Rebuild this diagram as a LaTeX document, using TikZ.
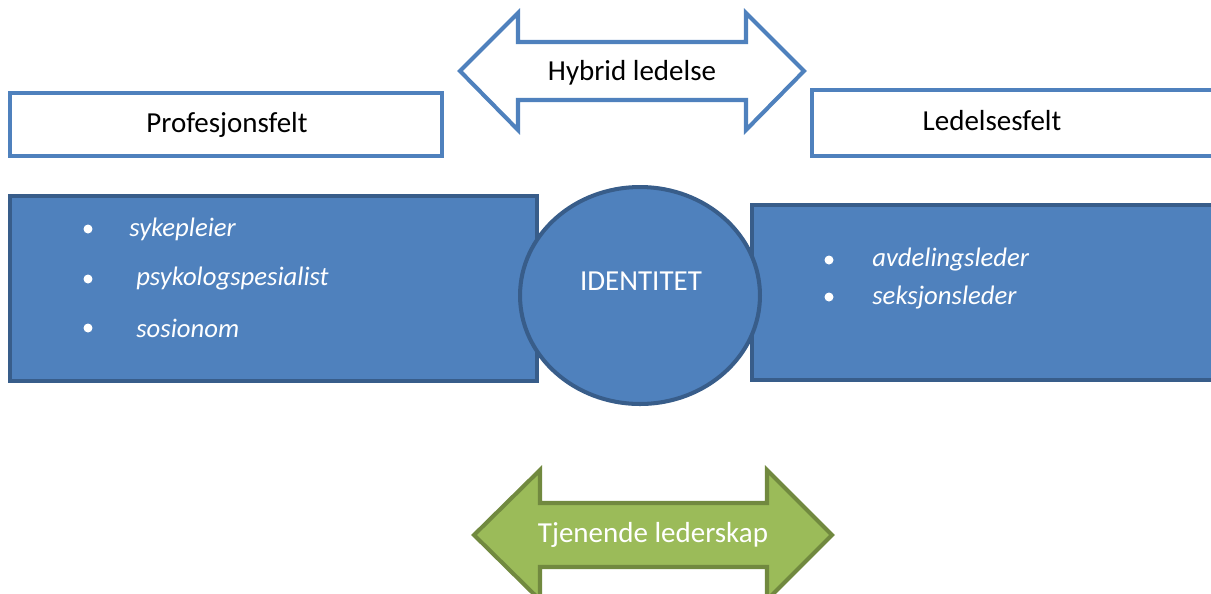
\documentclass[tikz,border=0pt]{standalone}
\usepackage{fontspec}
\setmainfont{Carlito}
\usepackage{xcolor}
\usepackage{tikz}
\usetikzlibrary{positioning}
\definecolor{feltblue}{HTML}{4F81BD}
\definecolor{feltdark}{HTML}{385D8A}
\definecolor{tjgreen}{HTML}{9BBB59}
\definecolor{tjdark}{HTML}{71893F}

\begin{document}
\begin{tikzpicture}[x=0.02cm,y=-0.02cm]
\tikzstyle{felt} = [draw=feltblue, line width=2.3pt, fill=white]
\tikzstyle{blokk} = [draw=feltdark, line width=2.3pt, fill=feltblue]
\tikzstyle{tekst} = [font=\fontsize{16.5}{20}\selectfont, inner sep=0pt]
\tikzstyle{punkt} = [tekst, text=white, font=\fontsize{15.2}{18}\selectfont\itshape, anchor=west]
\tikzstyle{prikk} = [circle, fill=white, inner sep=0pt, minimum size=0.18cm]
%
\clip (0,0) rectangle (1211,593);

	% top arrow
	\draw[felt, line join=miter] (460,71) -- (518,13) -- (518,42) -- (746,42) -- (746,13)
		-- (804,71) -- (746,130) -- (746,100) -- (518,100) -- (518,130) -- cycle;
	\node[tekst] (hybrid) at (632,73) {Hybrid ledelse};

	% fields
	\draw[felt] (10,93) rectangle (442,156);
	\node[tekst] (profesjon) at (227,125) {Profesjonsfelt};
	\draw[felt] (812,90) rectangle (1240,156);
	\node[tekst] (ledelse) at (992,121) {Ledelsesfelt};

	% blocks
	\draw[blokk] (10,196) rectangle (537,381);
	\draw[blokk] (752,205) rectangle (1240,380);
	\draw[blokk] (640,295.5) ellipse [x radius=2.4cm, y radius=2.17cm];
	\node[tekst, text=white] (identitet) at (641,281) {IDENTITET};

	\node[prikk] (b1) at (88,229) {};
	\node[prikk] (b2) at (88,279) {};
	\node[prikk] (b3) at (88,328) {};
	\node[punkt] (sykepleier) at (129,229) {sykepleier};
	\node[punkt] (psykolog) at (136,279) {psykologspesialist};
	\node[punkt] (sosionom) at (136,328) {sosionom};

	\node[prikk] (b4) at (829,260) {};
	\node[prikk] (b5) at (829,297) {};
	\node[punkt] (avdeling) at (872,260) {avdelingsleder};
	\node[punkt] (seksjon) at (872,298) {seksjonsleder};

	% bottom arrow
	\draw[draw=tjdark, fill=tjgreen, line width=2.3pt, line join=miter] (474,535) -- (540,470)
		-- (540,503) -- (767,503) -- (767,470) -- (832,535) -- (767,600) -- (767,567)
		-- (540,567) -- (540,600) -- cycle;
	\node[tekst, text=white] (tjenende) at (653,535) {Tjenende lederskap};
\end{tikzpicture}
\end{document}
